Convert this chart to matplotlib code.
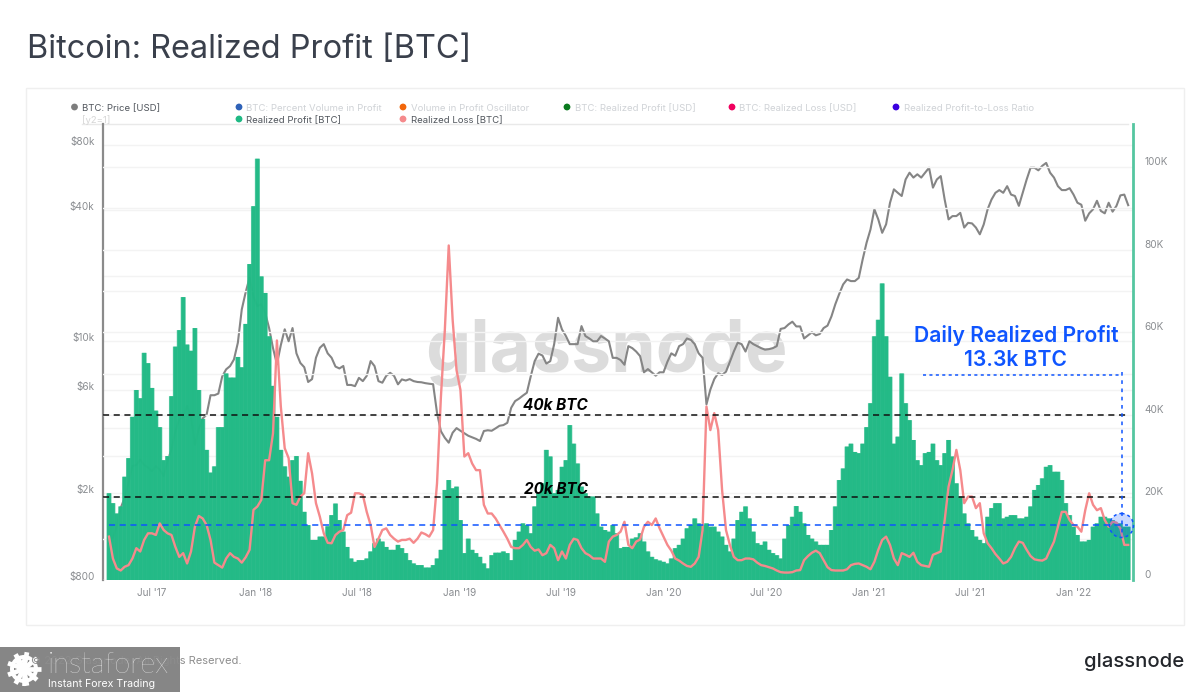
import numpy as np
import pandas as pd
import matplotlib
matplotlib.use("Agg")
import matplotlib.pyplot as plt
import matplotlib.dates as mdates
from matplotlib.patches import Circle, Rectangle

plt.rcParams['font.family'] = ['Inter', 'DejaVu Sans']

# weekly readings, thousands of BTC
realized_profit = [
 21.0,18.6,16.1,17.8,25,29.5,39.5,46,44,55,52.5,46.5,41,37,29,30,44.5,56.5,60.5,68.5,
 57,55.5,61,46,39,31.5,26,27.5,37,37,50,49,49,54,51.5,62,76.5,90.5,102,73.5,
 69.5,59,47,39.5,31.5,27.5,25,29,30,24,16.5,13.3,9.7,9.7,10.5,10.5,13,15.7,18.5,14.5,
 11.7,8,5.2,4.4,4.8,4.8,5.2,6.9,8.9,10,9.3,8,7.3,7.3,8.5,7.7,6.5,4.8,4,3.6,
 3.6,3,3,3.6,5.2,7.3,21.8,24.2,22.2,22.6,14.5,6.5,10,7.3,6.5,5.6,4,2.8,6,6.6,
 6.6,6.9,6.5,4.8,9.7,11.7,13.7,13.3,11.3,17.8,21,23.4,31.5,29.9,21,21.8,27.4,29,37.5,33,
 28.2,22.6,21,20.2,20.2,16.1,12.9,12.1,11.7,13.3,11.3,7.7,8,8,10,10.3,11.3,9.3,6.9,5.6,
 5,4.7,4.4,4,5.2,7.7,8.5,10,12.5,13.3,14.9,13.7,13.3,13.7,12.9,12.9,11.7,10.5,8.5,6.9,
 10,14.5,16.5,17.8,14.9,11.7,8.9,8.5,9.3,7.3,6.5,6,5.2,10,13.3,15.3,17.9,16.5,13.7,10.9,
 10,9.3,8.5,8.5,8.5,12.1,17.8,24.2,27,32.3,33,31,30.7,33,37,42.8,59,63,71.8,59,
 49.2,33,34.7,50,42.8,38.7,33.9,29,27.8,30.7,31,33,29,27.8,30.7,33.9,29.9,23.4,20.2,16.1,
 13.7,12.1,10.5,9.7,8.9,15.3,17.4,18.6,18.6,14.9,15.3,15.7,15.7,14.9,14.9,15.3,17.8,21.8,23,24.6,
 27.4,27.8,26.2,26.2,24.2,18.6,15.7,12.9,10.9,9.3,9.3,9.7,12.9,13.7,15.3,15.3,14.9,14.5,13.7,13.7,
 12.9,12.9]

realized_loss = [
 10.5,5.2,2.8,2.3,3.2,3.6,5.2,7.7,6.9,9.7,11.3,11.3,10.9,13.7,12.1,11.3,10.9,8,5.6,6.5,
 4,6.9,12.9,15.5,14.9,13.3,9.7,4.2,3.6,3,5.2,6.5,5.6,5.2,4.2,5.5,7.3,17,17.8,19.4,
 29,29,35.5,58,42,31.9,29.5,18.6,18.2,20.2,21,30.7,25.8,18.6,15.3,11.3,9,8.9,10.9,11.7,
 12.1,15.7,16.3,21,21,20.6,16.5,13.3,8,10,12.1,12.5,10.9,10,9.3,9.7,9.7,10,9,10,
 11.5,11.1,10.5,12.1,23.4,44.4,60.5,81,63,50.8,46,29.9,30.7,28.2,26.6,26.6,18.2,16.1,16.1,14.9,
 13.3,11.7,10,8,7.7,7.7,8.5,9.7,8,7.1,7.4,6,6.5,8.5,7.7,4.8,6.9,5.2,8.5,10,
 9.7,7.7,6.5,6,5.2,5.2,5.2,4.4,9.3,10.5,10.9,11.7,14.1,8.5,7.7,9.3,9.8,12.9,14.1,13.3,
 14.9,12.5,10.5,8.5,7.1,5.2,4.7,4,3.4,3.2,4,5.6,12.1,42,36.3,40.4,36.3,21.8,12.1,8.5,
 5.6,4.8,4.8,5.2,5.2,5,4.2,3.6,3.4,3.1,2.8,2.3,1.9,1.8,1.8,1.9,2.3,2.4,4.8,5.8,
 6.6,7.1,6.5,4.8,3.1,2.4,2.3,2.3,2.3,2.6,3.6,3.9,4,3.6,3.2,2.6,4.4,7.3,9.7,10.5,
 8.5,5.2,3.6,6.5,6.1,5.6,6.6,4.4,3.6,3.4,3.2,6.1,6.5,6.9,14.5,22.6,26.6,31.5,26.6,18.6,
 20.2,20.2,17.4,18.6,11.3,8.9,7.7,6.3,5.2,4,4.4,5.6,7.7,9.3,9,7.3,5.8,5,4.8,4.7,
 5.2,7.3,9.3,12.9,16.5,16.5,14.5,13.3,12.9,11.7,16.9,21,18.2,16.9,17.4,14.5,12.9,14.1,13.9,12.5,
 8.5,8.5]

btc_price = [
 1180,1250,1414,1715,1908,2240,2670,2700,2860,2700,2630,2530,2670,2570,2400,2820,3180,3860,4370,4480,
 5050,4500,3340,3960,4420,4600,5650,5650,5750,6900,7430,7690,8250,9850,14000,16800,19600,16000,14500,14800,
 13500,11500,9300,7850,9600,11350,10000,11500,8800,7950,7600,6500,6700,8400,9330,9700,8800,8400,7650,7500,
 7700,6300,6300,6220,6790,6560,6940,8110,7690,6560,6450,6940,7160,6940,6340,6680,6600,6700,6560,6500,
 6480,6420,6380,6350,4690,3860,3600,3420,3800,3990,3880,3780,3680,3620,3560,3480,3870,3900,3880,3980,
 4090,4120,4220,4950,5310,5450,5630,5800,6900,8100,8770,8600,7900,8100,9700,12820,11330,10570,9700,9700,
 9700,11740,10570,10300,10000,10000,10570,10300,10000,8390,8390,8200,7800,9500,9300,8970,8550,7200,7450,7200,
 6950,7200,7200,8050,8800,8580,9500,9700,10300,10150,9700,8800,8400,5130,6000,6700,7130,7000,7250,8050,
 8970,9850,9700,8970,10000,9700,9500,9300,9150,9200,9300,9500,11400,11500,11950,12300,11700,11700,10300,10650,
 11000,10650,10800,11500,11800,13000,14800,16500,18250,19230,18900,18900,19560,23770,28350,32620,40400,36300,31500,34450,
 43250,49900,48100,46500,55400,59500,56500,58500,56500,59500,62700,50800,55400,57400,44800,36300,37600,37600,38900,33300,
 35000,34800,33300,31000,34400,40400,44800,48100,49500,48100,51600,47200,46500,41900,48100,55400,62700,62700,61000,64000,
 66000,59500,56500,51600,49500,49500,50500,47200,43300,42400,35800,38700,40400,44200,39700,38700,43300,39400,41900,46800,
 47200,42200]

first_date = '2017-04-15'
last_date = '2022-04-09'
price_ticks = [800, 2000, 6000, 10000, 40000, 80000]
price_tick_labels = ['$800', '$2k', '$6k', '$10k', '$40k', '$80k']
price_minor = [4000, 20000]
btc_ticks = [0, 20, 40, 60, 80, 100]
btc_tick_labels = ['0', '20K', '40K', '60K', '80K', '100K']
btc_minor = [10, 30, 50, 70, 90]
date_ticks = ['2017-07-01','2018-01-01','2018-07-01','2019-01-01','2019-07-01',
              '2020-01-01','2020-07-01','2021-01-01','2021-07-01','2022-01-01']
date_tick_labels = ["Jul '17","Jan '18","Jul '18","Jan '19","Jul '19",
                    "Jan '20","Jul '20","Jan '21","Jul '21","Jan '22"]
levels = [20, 40]
current_profit = 13.3
legend_off = [('BTC: Percent Volume in Profit', '#2f62b8', 239, 246),
              ('Volume in Profit Oscillator', '#f2660a', 403, 411),
              ('BTC: Realized Profit [USD]', '#0a7a1e', 567, 575),
              ('BTC: Realized Loss [USD]', '#f0005e', 732, 739),
              ('Realized Profit-to-Loss Ratio', '#3a00e0', 896, 904)]

W, H = 1200, 692
dates = pd.date_range(first_date, last_date, periods=len(realized_profit))
GREEN = '#1fb984'
RED = '#f58a8c'
GRID = '#f3f3f3'
LIGHT = '#cfd2d6'
BLUE = '#0f55ff'

fig = plt.figure(figsize=(12, 6.92), dpi=100, facecolor='white')

def px_axes(zorder):
    a = fig.add_axes([0, 0, 1, 1], zorder=zorder)
    a.set_xlim(0, W); a.set_ylim(H, 0); a.axis('off')
    return a

under = px_axes(0)
over = px_axes(5)

box = [103 / W, 1 - 580 / H, (1133 - 103) / W, (580 - 124) / H]
ax_p = fig.add_axes(box, zorder=1)
ax_b = fig.add_axes(box, zorder=2, sharex=ax_p)
ax_b.patch.set_visible(False)
ax_p.patch.set_visible(False)
ax_b.yaxis.tick_right()

x0 = mdates.date2num(dates[0])
day_px = 0.56
ax_p.set_xlim(x0 - 6 / day_px, x0 + 1024 / day_px)
ax_p.set_yscale('log')
ax_p.set_ylim(800, 99600)
ax_b.set_ylim(0, 456 / 4.13)

# price axis
ax_p.set_yticks(price_ticks)
ax_p.set_yticklabels(price_tick_labels)
ax_p.set_yticks(price_minor, minor=True)
ax_p.yaxis.set_minor_formatter(matplotlib.ticker.NullFormatter())
ax_p.grid(True, which='both', axis='y', color=GRID, lw=1)
ax_p.grid(False, axis='x')
ax_p.tick_params(axis='y', which='both', length=0, labelsize=7.2, labelcolor='#8a8d91', pad=6)
for lab in ax_p.get_yticklabels():
    lab.set_va('baseline')
ax_p.set_axisbelow(True)
for s in ['top', 'right', 'bottom']:
    ax_p.spines[s].set_visible(False)
ax_p.spines['left'].set_color('#8b8b8b')
ax_p.spines['left'].set_linewidth(1.6)
ax_p.plot(dates, btc_price, color='#858585', lw=1.5, solid_joinstyle='round')

# BTC axis
ax_b.set_yticks(btc_ticks)
ax_b.set_yticklabels(btc_tick_labels)
ax_b.set_yticks(btc_minor, minor=True)
ax_b.grid(True, which='both', axis='y', color=GRID, lw=1)
ax_b.grid(False, axis='x')
ax_b.set_axisbelow(True)
ax_b.tick_params(axis='y', which='both', length=0, labelsize=7.2, labelcolor='#8a8d91', pad=8,
                 left=False, labelleft=False, right=False, labelright=True)
for lab in ax_b.get_yticklabels():
    lab.set_va('bottom')
for s in ['top', 'left', 'bottom']:
    ax_b.spines[s].set_visible(False)
ax_b.spines['right'].set_color('#55c6a0')
ax_b.spines['right'].set_linewidth(2)

bar_days = (dates[1] - dates[0]) / pd.Timedelta(days=1)
backing = ax_b.bar(dates, realized_profit, width=bar_days * 1.3, color='#3fc195', alpha=0.75, linewidth=0)
bars = ax_b.bar(dates, realized_profit, width=bar_days, color=GREEN, alpha=0.93, linewidth=0)
for b in list(backing) + list(bars):
    b.set_snap(False)
ax_b.plot(dates, realized_loss, color=RED, lw=1.7, solid_joinstyle='round')

xend = dates[-1]
for lv in levels:
    ax_b.plot([ax_p.get_xlim()[0], mdates.date2num(xend)], [lv, lv], color='#111111', lw=1.1,
              dashes=(4, 3))
ax_b.plot([dates[0], xend], [current_profit, current_profit], color=BLUE, lw=1.1, dashes=(4, 3))

ax_p.set_xticks(mdates.date2num(pd.to_datetime(date_ticks)))
ax_p.set_xticklabels(date_tick_labels)
ax_p.tick_params(axis='x', length=0, labelsize=7.2, labelcolor='#8a8d91', pad=6)
ax_b.tick_params(axis='x', length=0, labelbottom=False)

# page furniture
under.add_patch(Rectangle((26, 88), 1158, 537, fc='none', ec='#efefef', lw=1))
under.plot([82, 1128], [123.5, 123.5], color='#e9e9e9', lw=1)
over.text(27, 49, 'Bitcoin: Realized Profit [BTC]', fontsize=23.4, color='#3a404c',
          va='center', ha='left')

# watermark
under.text(606, 353, 'glassnode', fontsize=51.5, color='#dcdcdc', ha='center', va='center',
           fontweight='bold')

# legend
over.add_patch(Circle((74.5, 107), 3.4, fc='#7d7d7d', ec='none'))
over.text(82, 108.5, 'BTC: Price [USD]', fontsize=6.9, color='#50555c', va='center')
over.text(82, 120.5, '[y2=1]', fontsize=6.9, color='#d6d6d6', va='center')
for name, col, dx, tx in legend_off:
    over.add_patch(Circle((dx, 107), 3.4, fc=col, ec='none'))
    over.text(tx, 108.5, name, fontsize=6.9, color=LIGHT, va='center')
over.add_patch(Circle((239, 119), 3.4, fc=GREEN, ec='none'))
over.text(246, 120.5, 'Realized Profit [BTC]', fontsize=6.9, color='#50555c', va='center')
over.add_patch(Circle((403, 119), 3.4, fc=RED, ec='none'))
over.text(411, 120.5, 'Realized Loss [BTC]', fontsize=6.9, color='#50555c', va='center')

# annotations
over.text(555.5, 406, '40k BTC', fontsize=11, fontweight='bold', fontstyle='italic',
          color='black', ha='center', va='center')
over.text(555.5, 489, '20k BTC', fontsize=11, fontweight='bold', fontstyle='italic',
          color='black', ha='center', va='center')
over.text(1016, 335, 'Daily Realized Profit', fontsize=15.2, fontweight='semibold',
          color=BLUE, ha='center', va='center')
over.text(1016, 360, '13.3k BTC', fontsize=15.2, fontweight='semibold',
          color=BLUE, ha='center', va='center')
over.plot([923, 1121.5], [375, 375], color=BLUE, lw=1.1, dashes=(2, 2.2))
over.plot([1121.5, 1121.5], [372, 537], color=BLUE, lw=1.1, dashes=(2.4, 3))
over.add_patch(Circle((1121.5, 525.5), 12, fc='#0f55ff', alpha=0.22, ec='none'))
over.add_patch(Circle((1121.5, 525.5), 12, fc='none', ec=BLUE, lw=1.1, ls=(0, (2, 2))))

# footer
over.text(31, 661, '\u00a9 2022 Glassnode. All Rights Reserved.', fontsize=8, color='#8d8d8d',
          va='center')
over.add_patch(Rectangle((0, 647), 180, 45, fc='#7f7f7f', ec='none', alpha=0.94))
over.text(48, 665, 'instaforex', fontsize=21, color='white', va='center', fontweight='light',
          family=['Lato', 'DejaVu Sans'])
over.text(48, 684, 'Instant Forex Trading', fontsize=7.6, color='white', va='center')
for ang in np.deg2rad(np.arange(0, 360, 40)):
    over.plot([24, 24 + 17 * np.cos(ang)], [669, 669 + 17 * np.sin(ang)], color='white', lw=3.4,
              solid_capstyle='butt')
over.add_patch(Circle((24, 669), 14, fc='white', ec='none'))
over.add_patch(Circle((24, 669), 10, fc='#7f7f7f', ec='none'))
over.plot([24, 24], [669, 686], color='white', lw=2.6, solid_capstyle='butt')
over.plot([17, 24, 31], [662, 670, 662], color='white', lw=2.4)
over.add_patch(Circle((24, 661), 2.4, fc='white', ec='none'))
over.text(1184, 662, 'glassnode', fontsize=14.6, color='#23262b', ha='right', va='center',
          fontweight='medium')

fig.savefig('out.png', dpi=100, facecolor='white')
